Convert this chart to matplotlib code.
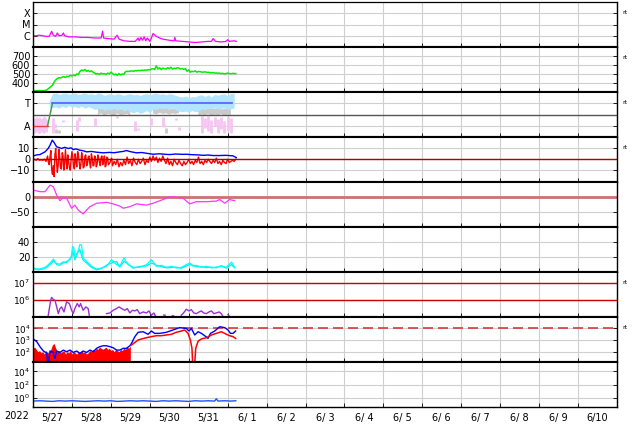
import matplotlib
matplotlib.use("Agg")
import matplotlib.pyplot as plt
import numpy as np


# ---------------------------------------------------------------------------
# DATA (hours since 2022-05-27 00:00)
# ---------------------------------------------------------------------------

day_labels = ["5/27", "5/28", "5/29", "5/30", "5/31", "6/ 1", "6/ 2", "6/ 3",
              "6/ 4", "6/ 5", "6/ 6", "6/ 7", "6/ 8", "6/ 9", "6/10"]

# X-ray flux (log10 W/m2)
xray_h = [0, 2, 4, 6, 8, 10, 11.5, 12.5, 14, 15, 16, 18, 18.7, 19.5, 22, 26, 30, 34,
          38, 42, 42.9, 43.5, 46, 50, 51.9, 53, 56, 60, 63, 64.8, 65.5, 66.5, 67.5,
          68.5, 69.5, 70.5, 72, 73, 74, 76, 78, 80, 84, 87, 87.4, 88, 92, 96, 100,
          104, 108, 110, 111, 112.5, 116, 119, 120, 121, 124, 125.3]
xray_log = [-6.0, -6.0, -5.95, -6.0, -6.05, -6.05, -5.6, -5.95, -6.05, -5.75, -6.0,
            -5.95, -5.75, -6.0, -6.1, -6.1, -6.15, -6.15, -6.2, -6.2, -5.6, -6.2,
            -6.25, -6.3, -5.95, -6.3, -6.45, -6.5, -6.5, -6.2, -6.45, -6.15, -6.4,
            -6.1, -6.45, -6.2, -6.5, -6.2, -5.8, -6.05, -6.2, -6.3, -6.4, -6.45,
            -6.15, -6.45, -6.5, -6.55, -6.6, -6.55, -6.5, -6.5, -6.25, -6.5, -6.55,
            -6.5, -6.35, -6.5, -6.45, -6.5]

# solar wind speed, hourly (km/s)
sw_speed = [315, 316, 314, 315, 316, 315, 314, 316, 318, 330,
            345, 360, 375, 410, 435, 450, 460, 455, 465, 470,
            462, 475, 470, 485, 478, 490, 480, 500, 495, 530,
            545, 535, 550, 530, 540, 525, 535, 520, 510, 500,
            505, 495, 510, 500, 505, 495, 510, 500, 520, 505,
            490, 500, 485, 505, 490, 500, 495, 525, 530, 528,
            532, 535, 530, 538, 535, 540, 538, 542, 540, 545,
            542, 548, 545, 555, 560, 550, 590, 555, 570, 550,
            565, 560, 555, 570, 560, 575, 555, 565, 560, 570,
            565, 555, 560, 550, 560, 530, 545, 520, 530, 525,
            535, 520, 528, 525, 522, 520, 525, 518, 520, 515,
            512, 515, 510, 512, 508, 510, 505, 508, 500, 505,
            510, 505, 503, 507, 505, 505]

# IMF sector (T = 1, A = -1), 2-hourly bands from 10 h
sec_h = [10, 12, 14, 16, 18, 20, 22, 24, 26, 28, 30, 32, 34, 36, 38, 40, 42, 44, 46,
         48, 50, 52, 54, 56, 58, 60, 62, 64, 66, 68, 70, 72, 74, 76, 78, 80, 82, 84,
         86, 88, 90, 92, 94, 96, 98, 100, 102, 104, 106, 108, 110, 112, 114, 116,
         118, 120, 122, 124]
sec_blue_hi = [1.2, 1.85, 1.9, 1.8, 1.85, 1.9, 1.8, 1.85, 1.9, 1.75,
               1.85, 1.9, 1.8, 1.85, 1.75, 1.9, 1.85, 1.7, 1.8, 1.85,
               1.75, 1.85, 1.8, 1.7, 1.8, 1.85, 1.75, 1.8, 1.7, 1.8,
               1.85, 1.75, 1.85, 1.9, 1.8, 1.85, 1.75, 1.85, 1.8, 1.7,
               1.6, 1.55, 1.65, 1.5, 1.6, 1.55, 1.7, 1.75, 1.6, 1.75,
               1.55, 1.8, 1.7, 1.8, 1.85, 1.65, 1.9, 1.85]
sec_blue_lo = [0.6, 0.6, 0.7, 0.55, 0.75, 0.6, 0.8, 0.65, 0.7, 0.6,
               0.75, 0.55, 0.7, 0.6, 0.45, 0.5, 0.6, 0.35, 0.5, 0.4,
               0.55, 0.35, 0.6, 0.3, 0.45, 0.25, 0.15, 0.3, 0.1, 0.2,
               0.35, 0.15, 0.5, 0.45, 0.6, 0.5, 0.55, 0.45, 0.6, 0.4,
               0.3, 0.25, 0.3, 0.2, 0.35, 0.25, 0.3, 0.5, 0.45, 0.55,
               0.5, 0.6, 0.5, 0.55, 0.6, 0.45, 0.5, 0.6]
nan = np.nan
sec_gray_hi = [nan] * 15 + [0.55, 0.5, 0.6, 0.45, 0.55, 0.5, 0.6, 0.5, 0.45, 0.55, 0.5] \
    + [nan] * 6 + [0.55, 0.5, 0.6, 0.5, 0.55, 0.45, 0.5, 0.55, 0.5] \
    + [nan] * 5 + [0.5, 0.55, 0.45, 0.5, 0.6, 0.5, 0.55, 0.45, 0.5, 0.55, 0.5] + [nan]
sec_gray_lo = [nan] * 15 + [-0.05, 0.1, -0.1, 0.05, 0.0, -0.1, 0.1, -0.05, 0.0, 0.05, -0.1] \
    + [nan] * 6 + [0.1, 0.0, 0.15, 0.05, 0.1, 0.0, 0.1, 0.05, 0.15] \
    + [nan] * 5 + [-0.1, 0.0, -0.05, 0.05, -0.1, 0.0, -0.05, 0.05, -0.1, 0.0, -0.05] + [nan]
pink_fill_h = [0, 1, 2, 3, 4, 5, 6, 7, 8, 9]
pink_fill_hi = [-0.2, -0.35, -0.15, -0.3, -0.2, -0.4, -0.25, -0.15, -0.3, -0.5]
pink_fill_lo = [-1.6, -1.7, -1.5, -1.65, -1.7, -1.55, -1.6, -1.7, -1.5, -1.6]
pink_h = [12.5, 13.5, 18.7, 27, 28.5, 38, 52, 63, 65, 73, 80, 81, 88, 90, 104, 106,
          108, 110, 112, 114, 116, 118, 120, 122]
pink_hi = [-0.3, -0.8, -0.5, -0.5, -0.2, -0.3, -0.1, -0.6, -1.2, -0.3, -0.2, -0.8,
           -0.3, -1.1, -0.1, -0.3, -0.1, -0.5, -0.2, -0.4, -0.2, -0.6, -0.2, -0.3]
pink_lo = [-1.6, -1.2, -0.7, -1.5, -0.6, -1.0, -0.3, -1.5, -1.4, -0.9, -1.0, -1.1,
           -0.5, -1.4, -1.6, -1.2, -1.5, -1.6, -1.0, -1.6, -1.3, -1.6, -1.4, -1.6]
gray_pt_h = [14, 16, 82]
gray_pt_hi = [-1.3, -1.4, -1.2]
gray_pt_lo = [-1.6, -1.6, -1.6]
sector_h = [0, 9, 12, 122.6]
sector_v = [-1, -1, 1, 1]

# IMF Bt (irregular) and Bz (hourly + half-hour values in the active part), nT
bt_h = [0.2, 2.3, 4.3, 7.4, 9.4, 10.5, 11.9, 13.0, 14.6, 16.6, 17.6, 19.5, 21.7, 23.5,
        24.8, 26.5, 28.9, 31, 33.0, 36, 39, 43.3, 47, 50, 53.5, 55.6, 57.6, 60, 63.8,
        67, 70, 74.0, 78, 82, 84.3, 88, 92, 94.5, 98, 102, 104.8, 108, 111, 115.1, 119,
        123.3, 125.3]
bt_v = [3.1, 4.0, 4.3, 6.8, 10, 13, 17.6, 15.4, 11.4, 10.5, 9.9, 11, 9.9, 10.5, 8.9,
        9.5, 8.3, 7.8, 6.8, 7.2, 6.5, 5.9, 6.3, 6.0, 6.8, 7.2, 8.0, 7.0, 5.9, 6.2, 5.5,
        4.6, 5.0, 4.5, 4.3, 4.8, 4.5, 4.6, 4.2, 4.0, 3.6, 3.9, 3.4, 3.4, 3.6, 3.1, 1.5]
bz = [-1, 0, -1, 0.5, -1, -0.5, -1, 0, -2, 3,
      -5, 8, -14, -16, 10, -12, 9, -8, 6, -10,
      9, -9, -3, -10, 7, -6, 5, -7, 4, -9,
      6, -8, 3, -6, 2, -4, 5, -6, 3, -7,
      4, -3, 2, -5, 3, -6, 1, -4, 0, -6,
      -2, -5, 0, -7, -3, -6, -1, -5, 2, -4,
      -1, -6, 1, -3, -5, 0, -4, -2, 1, -5,
      -1, -3, 2, -2, 3, -1, 2, -3, 1, -2,
      3, -1, -4, 1, -5, -2, -6, 0, -3, -5,
      -1, -4, -6, -2, -5, -3, 0, -4, -2, -5,
      -1, -3, 2, -4, -2, -5, -1, -3, 0, -2,
      -4, -1, -3, 1, -4, -2, -5, -1, -3, -4,
      0, -3, -2, -1, -2, 0]
bz_half_h = [9.5, 10.5, 11.5, 12.5, 13.5, 14.5, 15.5, 16.5, 17.5, 18.5,
             19.5, 20.5, 21.5, 22.5, 23.5, 24.5, 25.5, 26.5, 27.5, 28.5,
             29.5, 30.5, 31.5, 32.5, 33.5, 34.5, 35.5, 36.5, 37.5, 38.5,
             39.5, 40.5, 41.5, 42.5, 43.5, 44.5, 45.5, 46.5, 47.5, 48.5, 49.5]
bz_half = [-3, 2, -9, -6, 4, -2, -6, 2, -9, 3,
           -4, -2, 4, -8, 0, 2, -9, -2, 7, -3,
           -5, 1, -7, 4, -5, 3, -8, 1, -6, 2,
           -5, 1, -6, 3, -2, -7, 2, -5, -3, 1, -4]

# Dst index (nT)
dst_h = [0.2, 4.3, 7.4, 10.5, 12.5, 14.6, 16.6, 18.7, 20.7, 23.8, 25.8, 27.9, 30.9,
         33.0, 35.1, 39.2, 45.3, 49.4, 53.5, 55.6, 59.7, 63.8, 69.9, 74.0, 80.2, 84.3,
         88.3, 92.5, 96.6, 100.7, 106.9, 113.0, 115.1, 118.2, 121.2, 124.3]
dst_v = [21, 16, 16, 37, 32, 5, -13, -2, -5, -37, -27, -43, -55, -43, -32, -21, -18,
         -23, -30, -37, -32, -23, -27, -21, -9, 0, -2, -5, -23, -16, -16, -14, -9, -21,
         -9, -13]

# cyan panel (two traces)
cy_h = [0.2, 3.3, 6.4, 8.4, 11.5, 12.5, 14.6, 16.6, 18.7, 20.7, 22.8, 23.8, 24.4, 25.2,
        25.8, 26.9, 28.9, 29.9, 30.9, 33.0, 36.1, 39.2, 42.2, 45.3, 48.4, 51.5, 53.5,
        56.0, 58.6, 61.7, 65.8, 69.9, 73.0, 76.1, 79.1, 82.2, 85.3, 88.3, 91.4, 94.5,
        96.6, 98.7, 100.7, 103.8, 106.9, 110.0, 113.0, 116.1, 119.2, 122.3, 124.3]
cy_v1 = [5.3, 3.9, 5.3, 7.6, 14.2, 17.3, 9.8, 8.9, 12, 14.2, 16.4, 23, 34, 32, 18.7,
         20.9, 36.7, 35.8, 18.7, 14.2, 7.6, 4, 5.3, 7.6, 16.4, 9.8, 7.6, 18.7, 9.8, 6.2,
         6.2, 9.8, 16.4, 7.6, 8.9, 6.2, 7.6, 5.3, 6.2, 9.8, 12, 7.6, 8.9, 6.2, 7.6, 5.3,
         6.7, 7.6, 6.2, 13.3, 6.2]
cy_v2 = [4.5, 3.0, 4.0, 6.0, 12.0, 15.0, 11.0, 10.5, 13.5, 12.5, 18.0, 20.0, 28.0, 22.0,
         16.0, 24.0, 30.0, 22.0, 16.0, 12.0, 6.0, 3.0, 4.5, 9.0, 12.0, 14.0, 6.5, 14.0,
         11.0, 5.0, 7.5, 8.0, 12.0, 9.0, 7.0, 5.5, 6.0, 6.5, 5.0, 8.0, 10.0, 9.0, 7.0,
         7.0, 6.0, 6.5, 5.5, 8.5, 5.0, 10.0, 5.5]

# electron flux (log10)
el_h = [9.4, 10.9, 11.5, 12.5, 13.5, 14.6, 15.6, 16.6, 17.6, 19.1,
        20.7, 22.4, 23.8, 24.8, 25.8, 27.3, 28.5, 29.3, 30.9, 32.6,
        34.0, 34.7, 40, 45.3, 47.4, 49.4, 51.5, 53.1, 54.6, 56.6,
        58.1, 59.7, 61.3, 62.8, 64.2, 65.8, 67.9, 69.9, 71.5, 73.0,
        74.5, 76.1, 78, 80.6, 81.4, 84, 85.9, 86.7, 88, 91.4,
        92.8, 94.5, 96.2, 97.6, 99.1, 100.7, 102.4, 103.8, 105.2, 106.9,
        108.5, 110.0, 111.4, 113.0, 114.7, 116.1, 117.5, 119, 120.2, 120.8]
el_log = [5.1, 6.0, 6.16, 6.04, 6.0, 5.6, 5.2, 5.5, 5.6, 5.3,
          5.9, 5.8, 5.4, 5.2, 5.5, 5.8, 5.6, 5.8, 5.4, 5.6,
          5.5, 5.1, nan, 5.2, 5.24, 5.4, 5.5, 5.6, 5.5, 5.4,
          5.5, 5.24, 5.4, 5.36, 5.44, 5.2, 5.3, 5.24, 5.36, 5.1,
          5.24, 4.95, nan, 5.12, 5.1, nan, 5.08, 5.06, nan, 5.1,
          5.24, 5.46, 5.36, 5.44, 5.24, 5.2, 5.3, 5.36, 5.24, 5.2,
          5.3, 5.36, 5.2, 5.24, 5.3, 5.2, 4.95, nan, 5.14, 5.08]

# proton / electron channel (log10)
p8b_h = [0.2, 2.3, 4.3, 6.4, 8.4, 9.0, 9.6, 10.5, 12.5, 13.5,
         14.6, 16.6, 18.7, 20.7, 22.8, 24.8, 26.9, 28.9, 30.9, 33.0,
         35.1, 37.1, 39.2, 41.2, 43.3, 45.3, 47.4, 49.4, 51.5, 53.5,
         55.6, 57.6, 59.7, 60.7, 62.8, 64.8, 67.9, 70.9, 73.0, 75.0,
         78.1, 82.2, 86.3, 90.4, 94.5, 96.2, 97.6, 99.7, 101.8, 103.8,
         105.8, 107.9, 109.4, 112.0, 115.1, 118.2, 120.2, 121.7, 123.3, 124.9]
p8b_log = [3.09, 2.86, 2.43, 2.06, 1.9, 1.15, 1.15, 2.06, 1.94, 1.43,
           2.06, 1.94, 2.14, 2.0, 2.14, 1.94, 2.06, 1.86, 2.06, 1.94,
           2.14, 2.0, 2.29, 2.43, 2.51, 2.51, 2.43, 2.34, 2.14, 2.14,
           2.29, 2.29, 2.51, 2.71, 3.29, 3.66, 3.71, 3.49, 3.77, 3.57,
           3.57, 3.66, 3.86, 4.06, 4.0, 3.77, 4.0, 3.43, 3.71, 3.57,
           3.37, 3.14, 3.57, 3.77, 4.14, 4.06, 3.86, 3.57, 3.57, 3.77]
p8r_fill_top = [2.3, 2.4, 2.2, 2.0, 2.1, 1.9, 2.0, 1.8, 2.1, 1.9,
                2.0, 2.2, 2.6, 2.7, 2.3, 2.0, 2.1, 1.9, 2.0, 2.1,
                1.8, 2.0, 1.9, 2.1, 1.8, 2.0, 1.9, 1.8, 2.0, 1.9,
                2.1, 1.9, 2.0, 1.8, 1.9, 2.1, 2.0, 2.2, 2.1, 2.3,
                2.2, 2.4, 2.3, 2.2, 2.3, 2.4, 2.2, 2.3, 2.1, 2.2,
                2.0, 2.2, 2.1, 2.0, 2.2, 2.1, 2.3, 2.2, 2.4, 2.3, 2.5]
p8r_h = [60.7, 62.8, 64.8, 66.9, 69.9, 73.0, 76.1, 79.1, 82.2, 85.3,
         88.3, 91.4, 93.5, 95.6, 97.0, 98.0, 98.4, 99.7, 100.3, 101.8,
         103.8, 106.9, 110.0, 113.0, 116.1, 119.2, 121.2, 123.3, 124.9]
p8r_log = [2.57, 2.8, 3.0, 3.09, 3.2, 3.29, 3.37, 3.37, 3.43, 3.49,
           3.66, 3.77, 3.86, 3.57, 3.0, 2.29, 1.0, 1.0, 2.29, 2.91,
           3.09, 3.2, 3.43, 3.57, 3.71, 3.49, 3.37, 3.29, 3.14]

# bottom panel (log10)
p9_h = [0, 4, 8, 12, 16, 20, 24, 28, 32, 36, 40, 44, 48, 52, 56, 60, 64, 68, 72, 76,
        80, 84, 88, 92, 96, 100, 104, 108, 112, 113, 114, 118, 122, 125]
p9_log = [-0.55, -0.5, -0.55, -0.6, -0.5, -0.55, -0.5, -0.55, -0.6, -0.55,
          -0.5, -0.55, -0.5, -0.6, -0.55, -0.5, -0.55, -0.5, -0.55, -0.6,
          -0.5, -0.55, -0.5, -0.55, -0.6, -0.5, -0.55, -0.5, -0.55, -0.2,
          -0.55, -0.5, -0.55, -0.5]


# ---------------------------------------------------------------------------
# FIGURE
# ---------------------------------------------------------------------------

W_PX, H_PX = 634, 424
fig = plt.figure(figsize=(W_PX / 100, H_PX / 100), dpi=100)

left_px, right_px, top_px, panel_px = 33, 617, 2, 45
grid_c = "#cfcfcf"
axes = []
for i in range(9):
    bottom = 1 - (top_px + panel_px * (i + 1)) / H_PX
    ax = fig.add_axes([left_px / W_PX, bottom, (right_px - left_px) / W_PX, panel_px / H_PX])
    ax.set_xlim(0, 360)
    ax.set_xticks(np.arange(0, 361, 24))
    ax.set_xticks(np.arange(12, 360, 24), minor=True)
    ax.tick_params(axis="both", direction="in", length=3, width=0.6, right=True,
                   labelsize=7, pad=2)
    ax.tick_params(axis="x", which="minor", length=0)
    ax.tick_params(axis="y", which="minor", left=False, right=False)
    ax.grid(True, axis="both", which="major", color=grid_c, lw=0.8, zorder=0)
    ax.set_axisbelow(True)
    ax.xaxis.set_ticklabels([])
    for s in ("left", "right"):
        ax.spines[s].set_linewidth(1.0)
    ax.spines["top"].set_linewidth(0.9 if i == 0 else 1.5)
    ax.spines["bottom"].set_linewidth(1.0 if i == 8 else 1.5)
    axes.append(ax)

hrs = np.arange(len(sw_speed))

# 1: X-ray
ax = axes[0]
ax.set_yscale("log")
ax.set_ylim(1e-7, 1e-3)
ax.set_yticks([1e-6, 1e-5, 1e-4])
ax.set_yticklabels(["C", "M", "X"])
ax.plot(xray_h, 10 ** np.array(xray_log), color="#ff00ff", lw=0.9)

# 2: solar wind speed
ax = axes[1]
ax.set_ylim(300, 800)
ax.set_yticks([400, 500, 600, 700])
ax.plot(hrs, sw_speed, color="#00ee00", lw=1.1)

# 3: sector
ax = axes[2]
ax.set_ylim(-2, 2)
ax.set_yticks([1, -1])
ax.set_yticklabels(["T", "A"])
ax.fill_between(sec_h, sec_gray_lo, sec_gray_hi, color="#cacaca", lw=0)
ax.fill_between(sec_h, sec_blue_lo, sec_blue_hi, color="#b0e4ff", lw=0)
ax.fill_between(pink_fill_h, pink_fill_lo, pink_fill_hi, color="#f6c4f2", lw=0)
ax.vlines(pink_h, pink_lo, pink_hi, color="#f6c4f2", lw=2)
ax.vlines(gray_pt_h, gray_pt_lo, gray_pt_hi, color="#cacaca", lw=2)
ax.axhline(0, color="#555555", lw=1)
ax.plot(sector_h[:2], sector_v[:2], color="#e84040", lw=1)
ax.plot(sector_h[1:3], sector_v[1:3], color="#3c9a3c", lw=1)
ax.plot(sector_h[2:], sector_v[2:], color="#5a5aff", lw=1.2)

# 4: IMF
ax = axes[3]
ax.set_ylim(-21, 20.5)
ax.set_yticks([-10, 0, 10])
bz_t = np.concatenate([hrs, bz_half_h])
bz_all = np.concatenate([bz, bz_half])
order = np.argsort(bz_t)
ax.plot(bz_t[order], bz_all[order], color="#ff0000", lw=1.0)
ax.plot(bt_h, bt_v, color="#0000ff", lw=1.0)
ax.axhline(0, color="#b00000", lw=1)

# 5: Dst
ax = axes[4]
ax.set_ylim(-97, 47)
ax.set_yticks([-50, 0])
ax.axhline(0, color="#d07070", lw=2)
ax.plot(dst_h, dst_v, color="#ff33ff", lw=0.9)

# 6: cyan
ax = axes[5]
ax.set_ylim(0, 60)
ax.set_yticks([20, 40])
ax.plot(cy_h, cy_v2, color="#00f0f0", lw=0.9)
ax.plot(cy_h, cy_v1, color="#00ffff", lw=0.9)

# 7: electrons
ax = axes[6]
ax.set_yscale("log")
ax.set_ylim(1e5, 10 ** 7.67)
ax.set_yticks([1e6, 1e7])
ax.axhline(1e6, color="#cc0000", lw=1)
ax.axhline(1e7, color="#cc0000", lw=1)
ax.plot(el_h, 10 ** np.array(el_log), color="#9a30d0", lw=1.0)

# 8: particle flux
ax = axes[7]
ax.set_yscale("log")
ax.set_ylim(10 ** 1.12, 10 ** 4.97)
ax.set_yticks([1e2, 1e3, 1e4])
ax.tick_params(axis="y", labelsize=6.3)
ax.axhline(1e4, color="#d83838", lw=1.2, dashes=(6, 3))
ax.fill_between(np.arange(len(p8r_fill_top)), 10 ** 1.0, 10 ** np.array(p8r_fill_top),
                color="#ff0000", lw=0)
ax.plot(p8b_h, 10 ** np.array(p8b_log), color="#0000ff", lw=1.0)
ax.plot(p8r_h, 10 ** np.array(p8r_log), color="#ff0000", lw=1.1)

# 9: bottom
ax = axes[8]
ax.set_yscale("log")
ax.set_ylim(10 ** -1.46, 10 ** 5.46)
ax.set_yticks([1e0, 1e2, 1e4])
ax.tick_params(axis="y", labelsize=6.5)
ax.plot(p9_h, 10 ** np.array(p9_log), color="#2050ff", lw=1.0)
ax.set_xticks(np.arange(12, 360, 24), minor=True)
ax.set_xticklabels(day_labels, minor=True)
ax.tick_params(axis="x", which="minor", labelsize=7, pad=4)

axes[6].tick_params(axis="y", labelsize=6.5)

for ax in axes:
    ax.yaxis.set_minor_locator(matplotlib.ticker.NullLocator())

# small "rt" marks on the right
for i in (0, 1, 2, 3, 6, 7):
    axes[i].text(1.009, 0.77, "rt", transform=axes[i].transAxes, fontsize=4.5,
                 ha="left", va="center")

fig.text(17 / W_PX, 1 - 416 / H_PX, "2022", ha="center", va="center", fontsize=7)

fig.savefig("out.png", dpi=100)
